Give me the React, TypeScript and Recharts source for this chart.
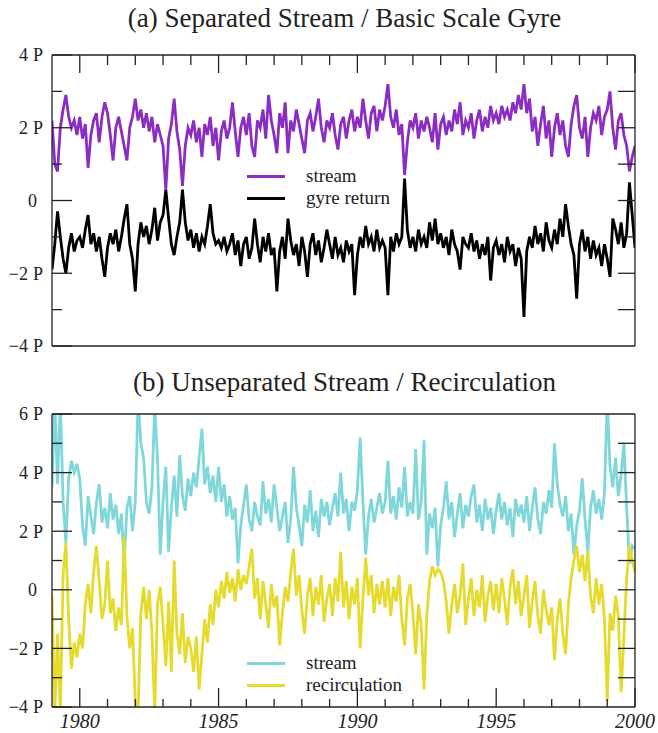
import { LineChart, Line, XAxis, YAxis, Legend } from "recharts";

// samples every 0.1 year from 1979.0 to 2000.0
const START_YEAR = 1979;
const STEP = 0.1;

// (a) separated stream, P units
const streamA = [
  2.2, 1.0, 0.8, 2.0, 2.5, 2.9, 2.3, 2.0, 2.2, 1.8,
  2.3, 1.7, 2.1, 0.9, 1.8, 2.2, 2.4, 1.6, 2.3, 2.7,
  2.4, 1.8, 1.1, 2.0, 2.3, 1.9, 1.5, 1.1, 2.0, 2.3,
  2.8, 2.2, 2.5, 2.0, 2.4, 1.9, 2.3, 1.6, 2.1, 1.8,
  1.5, 0.3, 1.7, 2.1, 2.8, 1.9, 1.4, 0.4, 1.5, 2.0,
  1.8, 2.2, 1.6, 2.0, 1.2, 2.1, 1.8, 2.3, 1.5, 2.0,
  1.1, 1.9, 2.2, 1.7, 2.0, 2.7, 1.9, 1.2, 2.0, 2.3,
  1.8, 2.4, 1.5, 1.2, 2.2, 2.0, 2.5, 1.7, 2.9, 2.2,
  1.8, 1.3, 2.4, 2.0, 2.7, 1.3, 2.2, 1.9, 2.5, 2.1,
  1.7, 1.3, 2.2, 2.4, 1.9, 2.3, 2.8, 2.0, 1.6, 2.2,
  2.0, 2.4, 1.8, 1.4, 2.1, 2.3, 1.7, 2.2, 2.5, 1.9,
  2.3, 2.0, 2.8, 2.2, 1.7, 2.4, 2.6, 1.9, 2.5, 2.2,
  2.6, 3.2, 2.3, 2.0, 2.5, 1.8, 2.1, 0.7, 1.6, 2.2,
  2.0, 2.4, 1.7, 2.2, 1.9, 2.3, 2.0, 1.6, 2.4, 1.4,
  2.1, 2.3, 1.8, 2.2, 1.9, 2.5, 2.1, 2.7, 1.8, 2.2,
  2.0, 2.4, 1.7, 2.2, 2.5, 1.9, 2.3, 2.0, 2.6, 2.2,
  2.4, 2.1, 2.6, 2.3, 2.5, 2.2, 2.7, 2.4, 2.9, 2.5,
  3.2, 2.4, 2.8, 1.9, 2.3, 1.5, 2.1, 2.6, 1.7, 2.2,
  1.2, 2.0, 2.4, 1.8, 2.2, 1.5, 1.2, 2.1, 2.6, 2.9,
  2.0, 1.7, 2.3, 1.2, 2.0, 2.4, 2.2, 2.6, 1.8, 2.3,
  2.5, 3.0, 2.0, 1.4, 2.2, 2.4, 1.8, 1.5, 0.8, 1.2,
  1.5,
];

// (a) gyre return
const gyreReturn = [
  -1.9, -1.2, -0.3, -1.0, -1.6, -2.0, -1.3, -0.9, -1.4, -1.1,
  -1.0, -1.3, -0.8, -0.4, -1.2, -0.9, -1.4, -1.0, -1.6, -2.1,
  -1.3, -0.9, -1.2, -0.8, -1.4, -1.0, -0.5, -0.1, -1.2, -1.6,
  -2.5, -1.2, -0.6, -1.0, -0.7, -1.2, -0.8, -0.2, -1.1, -0.6,
  -0.4, 0.3, -0.5, -1.2, -1.5, -1.0, -0.6, 0.3, -0.6, -1.1,
  -0.8, -1.3, -0.9, -1.4, -1.0, -1.2, -0.7, -0.1, -0.9, -1.2,
  -1.1, -1.3, -1.0, -1.4, -1.2, -0.9, -1.5, -1.1, -1.8, -1.2,
  -1.0, -1.6, -1.3, -0.5, -1.2, -1.7, -1.0, -1.4, -0.9, -1.5,
  -1.3, -2.5, -1.4, -1.0, -1.6, -0.5, -1.1, -1.5, -1.2, -1.8,
  -1.0, -1.4, -2.1, -1.2, -0.9, -1.5, -1.1, -1.7, -1.3, -0.8,
  -1.2, -1.6, -1.0, -1.5, -1.3, -1.7, -1.1, -1.4, -1.2, -2.6,
  -1.5, -1.0, -1.3, -0.7, -1.2, -1.0, -1.4, -0.8, -1.3, -1.1,
  -1.3, -2.6, -1.0, -1.4, -0.9, -1.2, -1.0, 0.6, -0.8, -1.3,
  -1.0, -1.4, -0.8, -1.2, -1.0, -1.3, -0.6, -1.1, -0.5, -1.2,
  -0.9, -1.3, -1.0, -1.5, -0.8, -1.2, -1.4, -1.9, -1.0, -1.2,
  -1.3, -0.9, -1.4, -1.1, -1.6, -1.2, -1.5, -1.0, -2.2, -1.3,
  -1.1, -1.5, -1.2, -1.7, -1.0, -1.4, -1.2, -1.8, -1.3, -1.6,
  -3.2, -1.4, -1.0, -1.3, -0.7, -1.2, -0.9, -1.4, -0.6, -1.1,
  -1.3, -0.8, -1.2, -0.5, -1.0, -0.1, -0.7, -1.2, -1.5, -2.7,
  -1.2, -0.8, -1.4, -1.0, -1.6, -1.1, -1.5, -1.3, -1.8, -1.2,
  -1.6, -2.1, -0.5, -0.8, -1.2, -0.6, -1.3, -0.9, 0.5, -0.4,
  -1.3,
];

// (b) unseparated stream
const streamB = [
  3.5, 6.5, 3.6, 6.5, 3.0, 1.6, 3.8, 4.4, 4.0, 4.3,
  3.8, 2.2, 1.5, 3.2, 2.5, 1.9, 3.0, 3.6, 2.3, 2.8,
  2.1, 3.3, 2.4, 2.9, 1.9, 2.6, 0.9, 2.8, 3.2, 2.0,
  3.0, 6.5, 5.0, 4.5, 3.0, 2.6, 3.5, 6.3, 4.5, 1.2,
  3.0, 4.2, 1.3, 2.8, 3.9, 2.5, 4.6, 3.2, 2.7, 3.8,
  3.2, 4.0, 3.5, 4.5, 5.5, 3.6, 4.2, 3.3, 3.9, 3.0,
  4.2, 3.0, 3.6, 2.5, 3.2, 2.4, 2.8, 0.9, 2.2, 2.9,
  3.6, 2.4, 2.0, 3.0, 2.5, 2.2, 3.7, 2.6, 3.1, 2.3,
  3.6, 2.8, 2.0, 2.5, 3.0, 1.6, 2.4, 4.2, 2.8, 2.2,
  1.5, 2.9, 2.3, 3.4, 2.0, 2.7, 1.8, 3.1, 2.5, 3.0,
  2.2, 2.8, 3.3, 2.5, 4.0, 2.6, 3.1, 2.0, 3.0, 2.7,
  3.4, 5.2, 3.0, 1.2, 2.5, 3.1, 2.3, 2.8, 3.3, 2.6,
  3.0, 4.4, 2.6, 3.2, 2.4, 3.5, 2.8, 4.2, 2.5, 3.0,
  2.6, 4.8, 2.4, 3.0, 5.1, 1.2, 2.6, 2.1, 2.8, 0.8,
  2.2, 2.8, 3.7, 2.4, 3.0, 1.8, 2.6, 3.3, 2.1, 2.9,
  2.5, 3.2, 3.6, 2.3, 2.9, 2.0, 3.1, 2.4, 2.8, 1.9,
  2.7, 3.3, 2.4, 3.0, 2.2, 2.8, 1.8, 3.1, 2.5, 2.9,
  2.3, 3.2, 2.0, 2.8, 3.5, 2.4, 1.9, 3.0, 2.6, 3.4,
  2.8, 5.0, 3.6, 2.9, 2.5, 3.2, 2.0, 2.6, 1.2, 2.2,
  2.7, 3.8, 2.4, 1.3, 2.8, 3.4, 2.6, 3.1, 2.4, 3.3,
  6.5, 4.2, 3.5, 4.5, 3.2, 3.9, 5.0, 2.8, 0.9, 1.5,
  1.4,
];

// (b) recirculation
const recirculation = [
  -0.2, -4.2, -1.5, -4.2, 0.5, 1.6, -1.0, -2.7, -1.8, -2.3,
  -1.5, -2.0, -0.5, 0.2, -0.8, 0.6, 1.5, 0.3, -1.0, -0.5,
  1.0, -0.8, -0.3, -1.4, -0.6, -1.2, 1.8, -0.9, -2.0, -1.3,
  -3.8, -4.2, -0.8, 0.1, -1.0, 0.0, -1.5, -4.2, -0.5, 0.1,
  -1.2, -2.6, -0.4, -2.8, 1.0, -1.5, -2.2, -0.8, -2.5, -1.6,
  -2.0, -2.8, -1.6, -3.4, -2.2, -1.0, -1.8, -0.5, -1.2, 0.0,
  -0.6, 0.3, -0.3, 0.6, -0.1, 0.4, -0.4, 0.7, 0.0, 0.5,
  0.2, 0.8, 1.4, -0.3, 0.4, -1.0, 0.3, -0.5, -1.3, 0.2,
  -0.6, -0.2, -1.9, -0.8, 0.1, -0.4, 0.6, 1.4, -0.2, 0.5,
  -0.7, -1.5, -0.2, 0.4, -0.9, 0.1, -0.5, 0.5, -1.1, -0.3,
  0.2, -0.9, 0.4, -0.4, 1.3, -0.6, 0.3, -1.0, 0.1, -0.5,
  0.4, -2.0, -0.3, 1.1, -0.2, 0.5, -0.8, 0.2, -0.5, 0.3,
  -0.6, 0.4, -0.9, 0.1, -0.4, 0.5, -1.0, -1.9, -0.3, 0.2,
  -0.8, -2.2, -0.5, -1.2, -3.4, -0.9, 0.3, 0.8, 0.5, 0.7,
  0.6, 0.3, -0.4, -1.5, -0.5, 0.2, -0.8, -0.2, 0.9, -1.2,
  -0.3, 0.4, -0.9, 0.0, -0.6, 0.5, -1.1, -0.2, 0.3, -0.7,
  0.2, -0.8, 0.4, -0.3, -1.2, 0.1, 0.7, -0.5, 0.3, -0.9,
  -0.2, 0.5, -1.3, -0.4, 0.3, -0.9, -1.5, 0.0, -0.7, -1.2,
  -0.6, -2.4, -1.0, -0.3, -1.5, -2.2, -0.5, 0.4, 1.0, 1.5,
  0.6, 1.2, 0.3, 1.3, -0.2, -0.8, 0.4, -0.5, 0.2, -1.0,
  -3.8, -0.8, -1.4, -0.2, -0.9, -3.5, -1.6, 0.4, 1.5, 1.0,
  0.6,
];

const yearTicks = [
  1980, 1981, 1982, 1983, 1984, 1985, 1986, 1987, 1988, 1989, 1990,
  1991, 1992, 1993, 1994, 1995, 1996, 1997, 1998, 1999, 2000,
];
const leftTicksA = [-4, -3, -2, -1, 0, 1, 2, 3, 4];
const rightTicksA = [-3, -2, -1, 0, 1, 2, 3];
const leftTicksB = [-4, -3, -2, -1, 0, 1, 2, 3, 4, 5, 6];
const rightTicksB = [-3, -2, -1, 0, 1, 2, 3, 4, 5];

const dataA = streamA.map((v, i) => ({
  t: Math.round((START_YEAR + i * STEP) * 10) / 10,
  stream: v,
  gyre: gyreReturn[i],
}));

const dataB = streamB.map((v, i) => ({
  t: Math.round((START_YEAR + i * STEP) * 10) / 10,
  stream: v,
  recirc: recirculation[i],
}));

const FONT = '"Liberation Serif", "Times New Roman", serif';
const INK = "#222";
const PURPLE = "#8b2dc2";
const CYAN = "#7fd7d9";
const YELLOW = "#e5da2e";
const LINE_W = 2.8;

function LeftTick(props: any) {
  const { x, y, payload } = props;
  const v = payload.value;
  const major = v % 2 === 0;
  return (
    <g>
      <line x1={x} x2={x + (major ? 20 : 10)} y1={y} y2={y} stroke={INK} strokeWidth={1.3} />
      {major &&
        (v === 0 ? (
          <text x={x - 15} y={y} dy="0.35em" textAnchor="end" fontFamily={FONT} fontSize={18} fill={INK}>
            0
          </text>
        ) : (
          <text x={x - 9} y={y} dy="0.35em" textAnchor="end" fontFamily={FONT} fontSize={18} fill={INK}>
            <tspan>{(v < 0 ? "\u2212" : "") + Math.abs(v)}</tspan>
            <tspan dx={5}>P</tspan>
          </text>
        ))}
    </g>
  );
}

function RightTick(props: any) {
  const { x, y } = props;
  return <line x1={x} x2={x - 17} y1={y} y2={y} stroke={INK} strokeWidth={1.3} />;
}

function TopTick(props: any) {
  const { x, y, payload } = props;
  const len = payload.value % 5 === 0 ? 18 : 10;
  return <line x1={x} x2={x} y1={y} y2={y + len} stroke={INK} strokeWidth={1.3} />;
}

function BottomTick(props: any) {
  const { x, y, payload } = props;
  const major = payload.value % 5 === 0;
  return (
    <g>
      <line x1={x} x2={x} y1={y} y2={y - (major ? 19 : 8)} stroke={INK} strokeWidth={1.3} />
      {major && (
        <text x={x} y={y + 21} textAnchor="middle" fontFamily={FONT} fontStyle="italic" fontSize={20} fill={INK}>
          {payload.value}
        </text>
      )}
    </g>
  );
}

function makeLegend(items: { label: string; color: string }[]) {
  return () => (
    <div style={{ fontFamily: FONT, fontSize: 19, color: INK }}>
      {items.map((it) => (
        <div key={it.label} style={{ display: "flex", alignItems: "center", height: 22 }}>
          <span style={{ display: "inline-block", width: 38, height: 3, background: it.color }} />
          <span style={{ marginLeft: 21, lineHeight: "22px" }}>{it.label}</span>
        </div>
      ))}
    </div>
  );
}

const axisLine = { stroke: INK, strokeWidth: 1.3 };

const titleStyle = {
  position: "absolute" as const,
  left: 0,
  width: 689,
  textAlign: "center" as const,
  fontFamily: FONT,
  fontSize: 27,
  lineHeight: "27px",
  color: INK,
};

export default function App() {
  return (
    <div style={{ position: "absolute", left: 0, top: 0, width: 658, height: 733, background: "#fff" }}>
      <div style={{ ...titleStyle, top: 5 }}>(a) Separated Stream / Basic Scale Gyre</div>
      <div style={{ position: "absolute", left: 0, top: 0 }}>
        <LineChart width={658} height={365} data={dataA} margin={{ top: 45, right: 13, bottom: 9, left: 8 }}>
          <XAxis
            xAxisId="top"
            orientation="top"
            type="number"
            dataKey="t"
            domain={[1979, 2000]}
            allowDataOverflow
            ticks={yearTicks}
            interval={0}
            height={10}
            tickSize={0}
            tickMargin={0}
            tickLine={false}
            axisLine={axisLine}
            tick={<TopTick />}
          />
          <XAxis
            xAxisId="bottom"
            type="number"
            dataKey="t"
            domain={[1979, 2000]}
            allowDataOverflow
            height={10}
            tick={false}
            tickLine={false}
            axisLine={axisLine}
          />
          <YAxis
            yAxisId="left"
            type="number"
            domain={[-4, 4]}
            allowDataOverflow
            ticks={leftTicksA}
            interval={0}
            width={44}
            tickSize={0}
            tickMargin={0}
            tickLine={false}
            axisLine={axisLine}
            tick={<LeftTick />}
          />
          <YAxis
            yAxisId="right"
            orientation="right"
            type="number"
            domain={[-4, 4]}
            allowDataOverflow
            ticks={rightTicksA}
            interval={0}
            width={10}
            tickSize={0}
            tickMargin={0}
            tickLine={false}
            axisLine={axisLine}
            tick={<RightTick />}
          />
          <Legend
            layout="horizontal"
            verticalAlign="middle"
            align="center"
            wrapperStyle={{ position: "absolute", left: 247, top: 165, width: "auto" }}
            content={makeLegend([
              { label: "stream", color: PURPLE },
              { label: "gyre return", color: "#000" },
            ])}
          />
          <Line
            xAxisId="bottom"
            yAxisId="left"
            type="linear"
            dataKey="gyre"
            stroke="#000"
            strokeWidth={LINE_W}
            dot={false}
            isAnimationActive={false}
          />
          <Line
            xAxisId="bottom"
            yAxisId="left"
            type="linear"
            dataKey="stream"
            stroke={PURPLE}
            strokeWidth={LINE_W}
            dot={false}
            isAnimationActive={false}
          />
        </LineChart>
      </div>

      <div style={{ ...titleStyle, top: 369 }}>(b) Unseparated Stream / Recirculation</div>
      <div style={{ position: "absolute", left: 0, top: 370 }}>
        <LineChart width={658} height={363} data={dataB} margin={{ top: 34, right: 13, bottom: 0, left: 8 }}>
          <XAxis
            xAxisId="top"
            orientation="top"
            type="number"
            dataKey="t"
            domain={[1979, 2000]}
            allowDataOverflow
            height={10}
            tick={false}
            tickLine={false}
            axisLine={axisLine}
          />
          <XAxis
            xAxisId="bottom"
            type="number"
            dataKey="t"
            domain={[1979, 2000]}
            allowDataOverflow
            ticks={yearTicks}
            interval={0}
            height={26}
            tickSize={0}
            tickMargin={0}
            tickLine={false}
            axisLine={axisLine}
            tick={<BottomTick />}
          />
          <YAxis
            yAxisId="left"
            type="number"
            domain={[-4, 6]}
            allowDataOverflow
            ticks={leftTicksB}
            interval={0}
            width={44}
            tickSize={0}
            tickMargin={0}
            tickLine={false}
            axisLine={axisLine}
            tick={<LeftTick />}
          />
          <YAxis
            yAxisId="right"
            orientation="right"
            type="number"
            domain={[-4, 6]}
            allowDataOverflow
            ticks={rightTicksB}
            interval={0}
            width={10}
            tickSize={0}
            tickMargin={0}
            tickLine={false}
            axisLine={axisLine}
            tick={<RightTick />}
          />
          <Legend
            layout="horizontal"
            verticalAlign="middle"
            align="center"
            wrapperStyle={{ position: "absolute", left: 247, top: 282, width: "auto" }}
            content={makeLegend([
              { label: "stream", color: CYAN },
              { label: "recirculation", color: YELLOW },
            ])}
          />
          <Line
            xAxisId="bottom"
            yAxisId="left"
            type="linear"
            dataKey="stream"
            stroke={CYAN}
            strokeWidth={LINE_W}
            dot={false}
            isAnimationActive={false}
          />
          <Line
            xAxisId="bottom"
            yAxisId="left"
            type="linear"
            dataKey="recirc"
            stroke={YELLOW}
            strokeWidth={LINE_W}
            dot={false}
            isAnimationActive={false}
          />
        </LineChart>
      </div>
    </div>
  );
}
